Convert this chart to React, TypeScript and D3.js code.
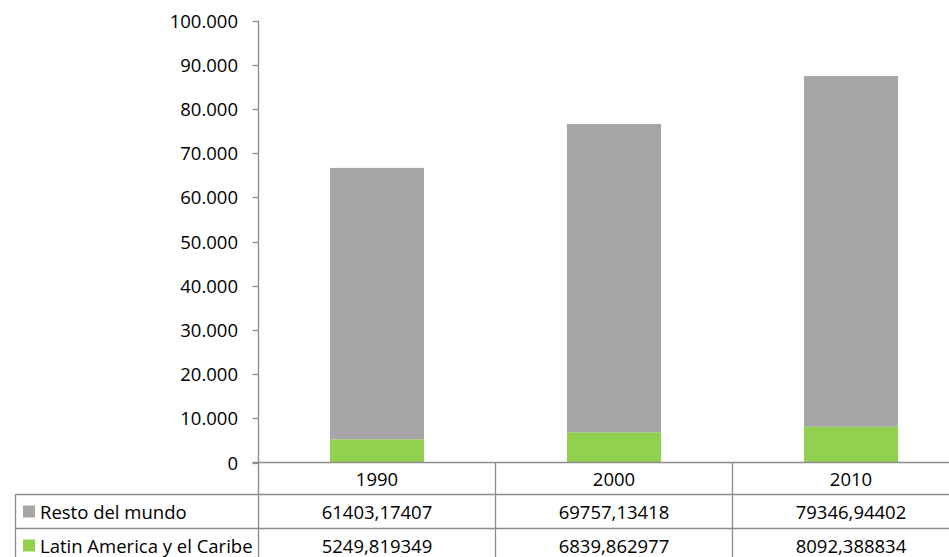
import React from "react";
import * as d3 from "d3";

const categories = ["1990", "2000", "2010"];
const seriesNames = ["Resto del mundo", "Latin America y el Caribe"];
const restoValues = [61403.17407, 69757.13418, 79346.94402];
const latamValues = [5249.819349, 6839.862977, 8092.388834];
const yTicks = [0, 10000, 20000, 30000, 40000, 50000, 60000, 70000, 80000, 90000, 100000];

const W = 949;
const H = 557;
const FONT = "'Open Sans', Lato, sans-serif";
const FS = 18.5;
const GRAY = "#A6A6A6";
const GREEN = "#92D050";
const LINE = "#8C8C8C";

const locale = d3.formatLocale({ decimal: ",", thousands: ".", grouping: [3], currency: ["", ""] });
const tickFmt = locale.format(",.0f");
const valFmt = (v: number) => String(v).replace(".", ",");

export default function App() {
  const y = d3.scaleLinear().domain([0, 100000]).range([462.5, 20.5]);
  const x = d3.scaleBand().domain(categories).range([258.5, 969.5]).padding(0);
  const bw = x.bandwidth() * 0.397;
  const stack = d3.stack<any>().keys(["latam", "resto"]);
  const rows = categories.map((c, i) => ({ cat: c, latam: latamValues[i], resto: restoValues[i] }));
  const series = stack(rows);
  const colors: Record<string, string> = { latam: GREEN, resto: GRAY };

  const axisX = 258.5;
  const row0 = y(0);
  const row1 = 494.5;
  const row2 = 528.5;
  const row3 = 562.5;
  const tableLeft = 15.5;
  const dy = -0.5;
  const tableRows = [
    { name: seriesNames[0], color: GRAY, values: restoValues, top: row1, bottom: row2 },
    { name: seriesNames[1], color: GREEN, values: latamValues, top: row2, bottom: row3 },
  ];

  return (
    <div style={{ position: "absolute", left: 0, top: 0 }}>
      <svg width={W} height={H} style={{ display: "block", background: "#fff" }} fontFamily={FONT}>
        {series.map((s) =>
          s.map((d, i) => (
            <rect
              key={s.key + i}
              x={(x(categories[i]) as number) + (x.bandwidth() - bw) / 2}
              y={y(d[1])}
              width={bw}
              height={y(d[0]) - y(d[1])}
              fill={colors[s.key]}
            />
          ))
        )}
        <line x1={axisX} x2={axisX} y1={y(100000)} y2={row3} stroke={LINE} strokeWidth={1.3} />
        {yTicks.map((t) => (
          <g key={t}>
            <line x1={axisX - 6} x2={axisX} y1={Math.round(y(t)) + 0.5} y2={Math.round(y(t)) + 0.5} stroke={LINE} strokeWidth={1.3} />
            <text x={238} y={y(t) + dy} textAnchor="end" dominantBaseline="central" fontSize={FS} fill="#000">
              {tickFmt(t)}
            </text>
          </g>
        ))}
        <line x1={axisX - 6} x2={W} y1={row0} y2={row0} stroke={LINE} strokeWidth={1.6} />
        <line x1={tableLeft} x2={W} y1={row1} y2={row1} stroke={LINE} strokeWidth={1.3} />
        <line x1={tableLeft} x2={W} y1={row2} y2={row2} stroke={LINE} strokeWidth={1.3} />
        <line x1={tableLeft} x2={tableLeft} y1={row1} y2={row3} stroke={LINE} strokeWidth={1.3} />
        {categories.slice(1).map((c) => (
          <line key={c} x1={x(c) as number} x2={x(c) as number} y1={row0} y2={row3} stroke={LINE} strokeWidth={1.3} />
        ))}
        {categories.map((c) => (
          <text key={c} x={(x(c) as number) + x.bandwidth() / 2} y={(row0 + row1) / 2 + dy} textAnchor="middle" dominantBaseline="central" fontSize={FS} fill="#000">
            {c}
          </text>
        ))}
        {tableRows.map((r) => (
          <g key={r.name}>
            <rect x={23} y={(r.top + r.bottom) / 2 - 6} width={12} height={12} fill={r.color} />
            <text x={40} y={(r.top + r.bottom) / 2 + dy} dominantBaseline="central" fontSize={FS} fill="#000">
              {r.name}
            </text>
            {r.values.map((v, i) => (
              <text key={i} x={(x(categories[i]) as number) + x.bandwidth() / 2} y={(r.top + r.bottom) / 2 + dy} textAnchor="middle" dominantBaseline="central" fontSize={FS} fill="#000">
                {valFmt(v)}
              </text>
            ))}
          </g>
        ))}
      </svg>
    </div>
  );
}
